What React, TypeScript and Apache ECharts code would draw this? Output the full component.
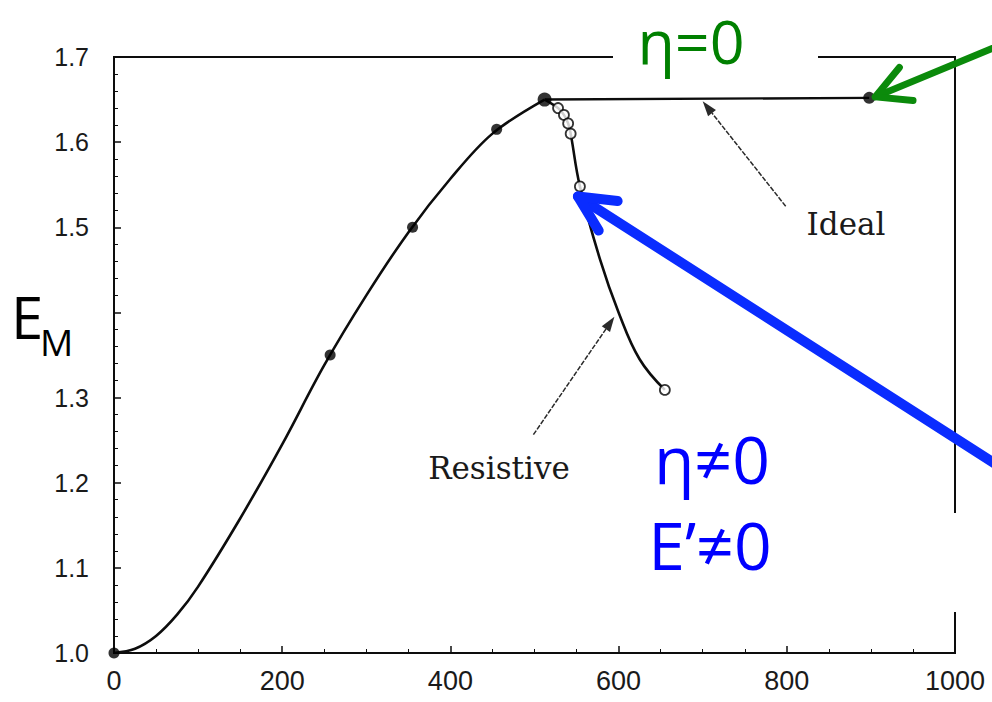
import React, { useEffect, useRef } from "react";
import * as echarts from "echarts";

// ---- data ----
const xTickValues = [0, 200, 400, 600, 800, 1000];
const yTickLabels = ["1.0", "1.1", "1.2", "1.3", "", "1.5", "1.6", "1.7"];

// growth phase (solid curve, both cases)
const growthX = [0, 25, 50, 75, 100, 150, 200, 250, 300, 350, 400, 450, 512];
const growthY = [1.0, 1.005, 1.02, 1.045, 1.078, 1.158, 1.245, 1.338, 1.42, 1.494, 1.557, 1.61, 1.65];
const growthMarkX = [0, 257, 355, 455];
const growthMarkY = [1.0, 1.35, 1.5, 1.615];
const peakX = [512];
const peakY = [1.65];

// ideal branch
const idealX = [512, 898];
const idealY = [1.65, 1.652];
const idealMarkX = [898];
const idealMarkY = [1.652];

// resistive branch
const resistiveX = [512, 528, 535, 540, 543, 554, 578, 600, 625, 655];
const resistiveY = [1.65, 1.64, 1.632, 1.622, 1.61, 1.548, 1.462, 1.4, 1.345, 1.309];
const resistiveMarkX = [528, 535, 540, 543, 554, 655];
const resistiveMarkY = [1.64, 1.632, 1.622, 1.61, 1.548, 1.309];

const pair = (xs: number[], ys: number[]) => xs.map((x, i) => [x, ys[i]]);

function openArrow(tip: number[], tail: number[], color: string, width: number, len: number, halfDeg: number) {
  const a = Math.atan2(tail[1] - tip[1], tail[0] - tip[0]);
  const h = (halfDeg * Math.PI) / 180;
  const w1 = [tip[0] + len * Math.cos(a + h), tip[1] + len * Math.sin(a + h)];
  const w2 = [tip[0] + len * Math.cos(a - h), tip[1] + len * Math.sin(a - h)];
  return [
    { type: "line", z: 120, shape: { x1: tail[0], y1: tail[1], x2: tip[0], y2: tip[1] }, style: { stroke: color, lineWidth: width, lineCap: "round" } },
    { type: "polyline", z: 120, shape: { points: [w1, tip, w2] }, style: { stroke: color, lineWidth: width, lineCap: "round", lineJoin: "round", fill: null } },
  ];
}

function solidArrow(tip: number[], tail: number[], color: string, width: number, len: number, half: number) {
  const a = Math.atan2(tail[1] - tip[1], tail[0] - tip[0]);
  const c = Math.cos(a), s = Math.sin(a);
  const base = [tip[0] + len * c, tip[1] + len * s];
  const p1 = [base[0] - half * s, base[1] + half * c];
  const p2 = [base[0] + half * s, base[1] - half * c];
  return [
    { type: "line", z: 110, shape: { x1: tail[0], y1: tail[1], x2: base[0], y2: base[1] }, style: { stroke: color, lineWidth: width, lineDash: [5, 1.5] } },
    { type: "polygon", z: 110, shape: { points: [tip, p1, p2] }, style: { fill: color } },
  ];
}

export default function App() {
  const ref = useRef<HTMLDivElement>(null);
  useEffect(() => {
    document.body.style.margin = "0";
    const chart = echarts.init(ref.current!, null, { renderer: "svg" });
    const ink = "#0d0d0d";
    chart.setOption({
      animation: false,
      backgroundColor: "#fff",
      grid: { left: 114, right: 37, top: 57, bottom: 49, show: true, borderColor: ink, borderWidth: 2 },
      xAxis: {
        type: "value",
        min: 0,
        max: 1000,
        interval: 200,
        axisLine: { show: true, lineStyle: { color: ink, width: 2 } },
        axisTick: { show: true, inside: true, length: 7, lineStyle: { color: ink, width: 1.5 } },
        minorTick: { show: true, splitNumber: 4, length: 4, lineStyle: { color: ink, width: 1 } },
        splitLine: { show: false },
        axisLabel: {
          color: "#1a1a1a",
          fontFamily: "Liberation Sans",
          fontSize: 27,
          margin: 14,
          formatter: (v: number) => (xTickValues.includes(v) ? String(v) : ""),
        },
      },
      yAxis: {
        type: "value",
        min: 1.0,
        max: 1.7,
        interval: 0.1,
        axisLine: { show: true, lineStyle: { color: ink, width: 2 } },
        axisTick: { show: true, inside: true, length: 7, lineStyle: { color: ink, width: 1.5 } },
        minorTick: { show: true, splitNumber: 5, length: 4, lineStyle: { color: ink, width: 1 } },
        splitLine: { show: false },
        axisLabel: {
          color: "#1a1a1a",
          fontFamily: "Liberation Sans",
          fontSize: 25,
          margin: 25,
          formatter: (v: number) => yTickLabels[Math.round((v - 1) * 10)] ?? "",
        },
      },
      series: [
        { type: "line", data: pair(growthX, growthY), smooth: 0.35, showSymbol: false, lineStyle: { color: ink, width: 2.6 }, z: 2 },
        { type: "line", data: pair(idealX, idealY), showSymbol: false, lineStyle: { color: ink, width: 2.4 }, z: 2 },
        { type: "line", data: pair(resistiveX, resistiveY), smooth: 0.4, showSymbol: false, lineStyle: { color: ink, width: 2.6 }, z: 2 },
        { type: "scatter", data: pair(growthMarkX, growthMarkY), symbolSize: 11, itemStyle: { color: "#000" }, z: 4 },
        { type: "scatter", data: pair(peakX, peakY), symbolSize: 14, itemStyle: { color: "#000" }, z: 4 },
        { type: "scatter", data: pair(idealMarkX, idealMarkY), symbolSize: 12, itemStyle: { color: "#000" }, z: 4 },
        {
          type: "scatter",
          data: pair(resistiveMarkX, resistiveMarkY),
          symbolSize: 10,
          itemStyle: { color: "#fff", borderColor: "#000", borderWidth: 1.8 },
          z: 5,
        },
      ],
    });

    const P = (x: number, y: number) => chart.convertToPixel({ gridIndex: 0 }, [x, y]) as number[];
    const idealEnd = P(idealMarkX[0], idealMarkY[0]);
    const resMark = P(resistiveMarkX[4], resistiveMarkY[4]);
    const greenTip = [idealEnd[0] + 6, idealEnd[1] - 1];
    const blueTip = [resMark[0] - 2, resMark[1] + 10];
    const idealTip = P(700, 1.648);
    const resTip = P(595, 1.395);

    const graphic: any[] = [
      { type: "rect", z: 100, shape: { x: 613, y: 42, width: 205, height: 26 }, style: { fill: "#fff" } },
      { type: "rect", z: 100, shape: { x: 942, y: 513, width: 26, height: 99 }, style: { fill: "#fff" } },
      ...solidArrow(idealTip, [idealTip[0] + 83, idealTip[1] + 105], "#2a2a2a", 1.5, 15, 5),
      ...solidArrow(resTip, [resTip[0] - 81, resTip[1] + 118], "#2a2a2a", 1.5, 15, 5),
      ...openArrow(greenTip, [greenTip[0] + 140, greenTip[1] - 58], "#0b8a0b", 7, 38, 28),
      ...openArrow(blueTip, [blueTip[0] + 440, blueTip[1] + 282], "#0a2cff", 10, 40, 26),
      { type: "text", z: 130, x: 846, y: 224, style: { text: "Ideal", fill: "#1a1a1a", fontFamily: "DejaVu Serif", fontSize: 31, align: "center", verticalAlign: "middle" } },
      { type: "text", z: 130, x: 499, y: 468, style: { text: "Resistive", fill: "#1a1a1a", fontFamily: "DejaVu Serif", fontSize: 31, align: "center", verticalAlign: "middle" } },
      { type: "text", z: 130, x: 691, y: 40, style: { text: "η=0", fill: "#008000", fontFamily: "Open Sans", fontSize: 61, align: "center", verticalAlign: "middle" } },
      { type: "text", z: 130, x: 712, y: 458, style: { text: "η≠0", fill: "#0000ff", fontFamily: "Open Sans", fontSize: 66, align: "center", verticalAlign: "middle" } },
      { type: "text", z: 130, x: 710, y: 544, style: { text: "E’≠0", fill: "#0000ff", fontFamily: "Open Sans", fontSize: 66, align: "center", verticalAlign: "middle" } },
      { type: "text", z: 130, x: 11, y: 316, style: { text: "E", fill: "#000", fontFamily: "Open Sans", fontSize: 58, align: "left", verticalAlign: "middle" } },
      { type: "text", z: 130, x: 40, y: 341, style: { text: "M", fill: "#000", fontFamily: "Open Sans", fontSize: 37, align: "left", verticalAlign: "middle" } },
    ];
    chart.setOption({ graphic });

    return () => chart.dispose();
  }, []);
  return <div ref={ref} style={{ width: 992, height: 702 }} />;
}
